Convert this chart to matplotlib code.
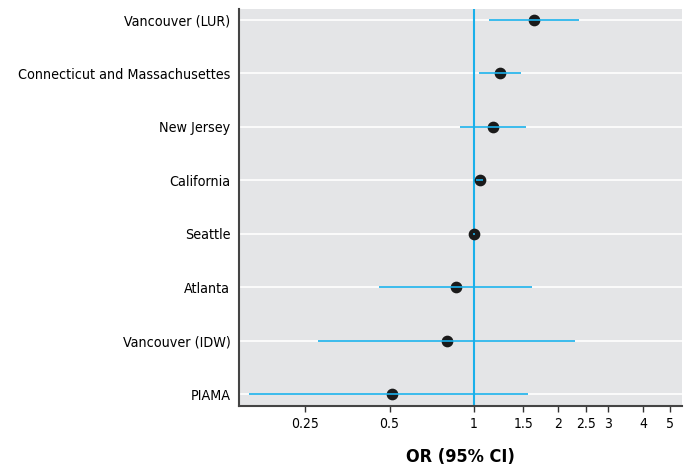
import matplotlib
matplotlib.use("Agg")
import matplotlib.pyplot as plt
import numpy as np
from matplotlib import font_manager
from matplotlib.ticker import FixedLocator, NullLocator

# Study sites, top to bottom
sites = ["Vancouver (LUR)", "Connecticut and Massachusettes", "New Jersey",
         "California", "Seattle", "Atlanta", "Vancouver (IDW)", "PIAMA"]
odds_ratio = [1.63, 1.24, 1.17, 1.05, 1.0, 0.86, 0.80, 0.51]
ci_low = [1.13, 1.045, 0.89, 1.02, 0.99, 0.46, 0.278, 0.158]
ci_high = [2.37, 1.47, 1.53, 1.075, 1.01, 1.61, 2.29, 1.56]

xticks = [0.25, 0.5, 1, 1.5, 2, 2.5, 3, 4, 5]
xtick_labels = ["0.25", "0.5", "1", "1.5", "2", "2.5", "3", "4", "5"]

# pick a narrow font if one is installed
names = {f.name for f in font_manager.fontManager.ttflist}
if "Liberation Sans Narrow" in names:
    plt.rcParams['font.family'] = ['Liberation Sans Narrow', 'DejaVu Sans']
    fs = 11
else:
    plt.rcParams['font.family'] = ['DejaVu Sans']
    plt.rcParams['font.stretch'] = 'condensed'
    fs = 10.3

blue = "#1AB0EA"
fig = plt.figure(figsize=(6.86, 4.66), dpi=100)
ax = fig.add_axes([0.348, 0.129, 0.646, 0.852])
ax.set_facecolor("#E4E5E7")

ypos = np.arange(len(sites))[::-1]

for y in ypos:
    ax.axhline(y, color="white", linewidth=1.2, zorder=1)

ax.axvline(1, color=blue, linewidth=1.5, zorder=2)

ax.scatter(odds_ratio, ypos, s=55, color="#1a1a1a", zorder=3)
ax.hlines(ypos, ci_low, ci_high, color=blue, linewidth=1.2, zorder=4)

ax.set_xscale("log")
ax.set_xlim(0.145, 5.51)
ax.set_ylim(-0.22, 7.2)
ax.xaxis.set_major_locator(FixedLocator(xticks))
ax.xaxis.set_minor_locator(NullLocator())
ax.set_xticklabels(xtick_labels, fontsize=fs - 0.3)
ax.set_yticks(ypos)
ax.set_yticklabels(sites, fontsize=fs)
ax.tick_params(axis="y", length=0, pad=6)
ax.tick_params(axis="x", length=4, width=1, color="#333333", pad=4)

for side in ["top", "right"]:
    ax.spines[side].set_visible(False)
for side in ["left", "bottom"]:
    ax.spines[side].set_color("#444444")
    ax.spines[side].set_linewidth(1.5)

ax.set_xlabel("OR (95% CI)", fontsize=fs + 2.7, fontweight="bold", labelpad=12)

plt.savefig("out.png", dpi=100)
